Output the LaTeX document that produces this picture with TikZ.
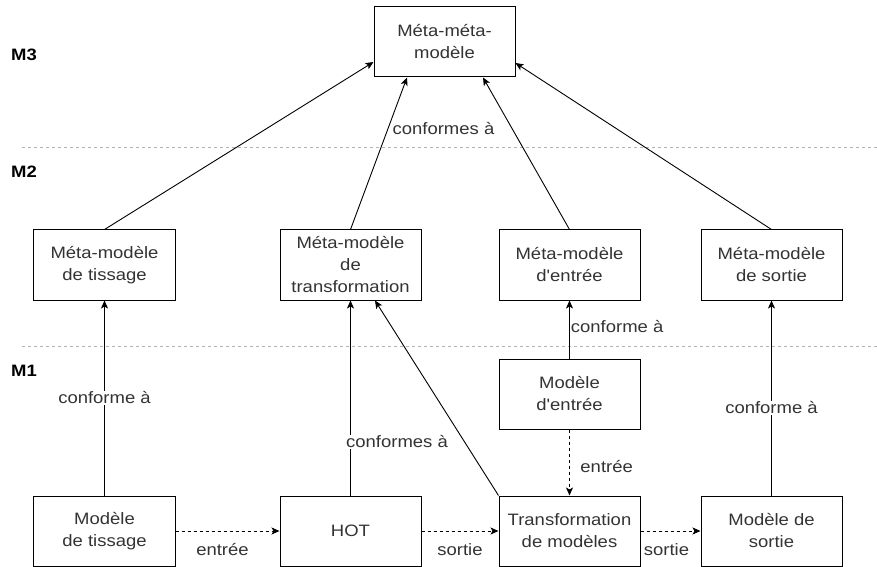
\documentclass[tikz,border=0pt]{standalone}
\usepackage{fontspec}
\newfontfamily\diafont{Liberation Sans}[FakeStretch=1.12]
\usetikzlibrary{arrows.meta,calc}
\definecolor{txt}{HTML}{333333}
\definecolor{sepgray}{HTML}{B3B3B3}
\begin{document}
\begin{tikzpicture}[x=1bp,y=-1bp,
  every node/.style={font=\diafont\fontsize{16.5bp}{22bp}\selectfont, text=txt},
  box/.style={draw=black, line width=1bp, minimum width=141bp, minimum height=70bp,
    align=center, inner sep=2bp},
  lvl/.style={font=\diafont\fontsize{16.5bp}{22bp}\selectfont\bfseries, text=black},
  conn/.style={draw=black, line width=0.9bp, -{Stealth[length=8bp,width=7bp,inset=2bp]}},
  flow/.style={conn, dash pattern=on 3bp off 3bp},
  lab/.style={inner sep=1bp},
  onl/.style={lab, fill=white},
  sepline/.style={draw=sepgray, line width=0.8bp, dash pattern=on 3bp off 3bp}]

\useasboundingbox (0,0) rectangle (877,567);

% level separators
\coordinate (s1a) at (22,147.5);
\coordinate (s1b) at (877,147.5);
\coordinate (s2a) at (22,346);
\coordinate (s2b) at (877,346);
\draw[sepline] (s1a) -- (s1b);
\draw[sepline] (s2a) -- (s2b);

% level names
\node[lvl] (lm3) at (24,55) {M3};
\node[lvl] (lm2) at (24,172) {M2};
\node[lvl] (lm1) at (24,370.5) {M1};

% M3
\node[box] (mmm) at (444.5,42) {Méta-méta-\\modèle};

% M2
\node[box] (mmt) at (104.5,265) {Méta-modèle\\de tissage};
\node[box] (mmx) at (350.5,265) {Méta-modèle\\de\\transformation};
\node[box] (mme) at (569.5,265) {Méta-modèle\\d'entrée};
\node[box] (mms) at (771.5,265) {Méta-modèle\\de sortie};

% M1
\node[box] (me)  at (569.5,394) {Modèle\\d'entrée};
\node[box] (mt)  at (104.5,531) {Modèle\\de tissage};
\node[box] (hot) at (350.5,531) {HOT};
\node[box] (tm)  at (569.5,531) {Transformation\\de modèles};
\node[box] (ms)  at (771.5,531) {Modèle de\\sortie};

% conformance M2 -> M3
\draw[conn] (mmt.north) -- ($(mmm.west)+(0,20)$);
\draw[conn] (mmx.north) -- node[lab, pos=0.667, anchor=west, xshift=3bp] {conformes à}
  ($(mmm.south)+(-37.5,0)$);
\draw[conn] (mme.north) -- ($(mmm.south)+(38.5,0)$);
\draw[conn] (mms.north) -- ($(mmm.east)+(0,21)$);

% conformance M1 -> M2
\draw[conn] (mt.north) -- node[onl] {conforme à} (mmt.south);
\draw[conn] (hot.north) -- node[onl, pos=0.276, xshift=46.5bp] {conformes à} (mmx.south);
\draw[conn] (tm.north west) -- ($(mmx.south)+(24.5,0)$);
\draw[conn] (me.north) -- node[lab, pos=0.56, anchor=west] {conforme à} (mme.south);
\draw[conn] (ms.north) -- node[onl, pos=0.449] {conforme à} (mms.south);

% data flow
\draw[flow] (me.south) -- node[lab, pos=0.56, anchor=west, xshift=9.5bp] {entrée} (tm.north);
\draw[flow] (mt.east) -- node[lab, yshift=-18.5bp, xshift=-5bp] {entrée} (hot.west);
\draw[flow] (hot.east) -- node[lab, yshift=-18.5bp] {sortie} (tm.west);
\draw[flow] (tm.east) -- node[lab, yshift=-18.5bp, xshift=-4bp] {sortie} (ms.west);

\end{tikzpicture}
\end{document}
